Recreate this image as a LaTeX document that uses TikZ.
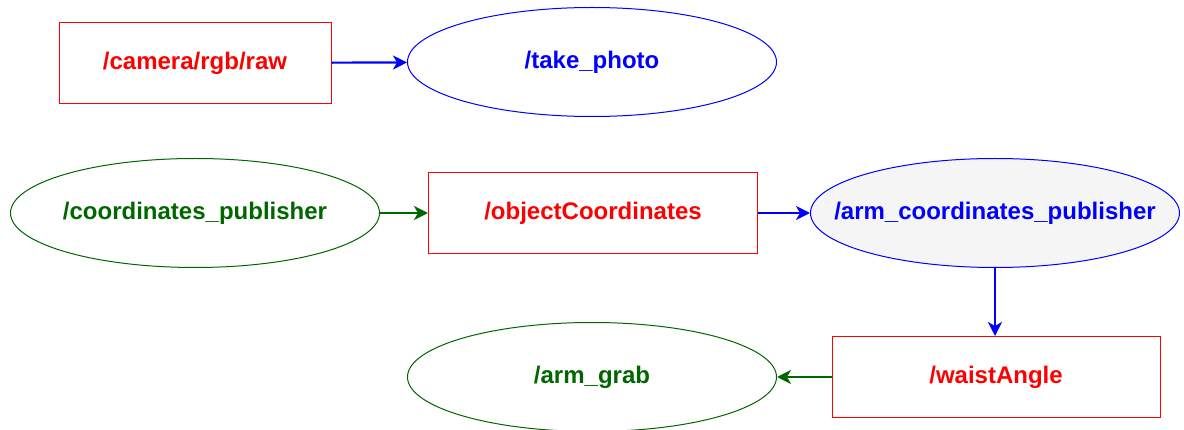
\documentclass[tikz,border=0pt]{standalone}
\usepackage{fontspec}
\setmainfont{Liberation Sans}
\usetikzlibrary{shapes.geometric,arrows.meta}
\definecolor{tred}{HTML}{FF0000}
\definecolor{nblue}{HTML}{0000FF}
\definecolor{ngreen}{HTML}{006600}
\definecolor{nfill}{HTML}{F5F5F5}

\begin{document}
\begin{tikzpicture}[x=1pt, y=-1pt, font=\fontsize{24}{29}\selectfont\bfseries,
 topic/.style = {draw=tred, text=tred, line width=1pt, rectangle, inner sep=0pt, minimum height=81pt},
 bnode/.style = {draw=nblue, text=nblue, line width=1pt, ellipse, inner sep=0pt, minimum width=369pt, minimum height=109pt},
 gnode/.style = {draw=ngreen, text=ngreen, line width=1pt, ellipse, inner sep=0pt, minimum width=369pt, minimum height=109pt},
 blink/.style = {draw=nblue, line width=2.2pt, -{Stealth[length=14pt, width=14pt, inset=4pt]}},
 glink/.style = {draw=ngreen, line width=2.2pt, -{Stealth[length=14pt, width=14pt, inset=4pt]}}]
\useasboundingbox (0,0) rectangle (1184,430);
\node[topic, minimum width=272pt] (1) at (195,63) {/camera/rgb/raw};
\node[bnode] (2) at (592,62) {/take\_photo};
\node[gnode] (3) at (195,213) {\makebox[0pt]{/coordinates\_publisher}};
\node[topic, minimum width=329pt] (4) at (593,213) {/objectCoordinates};
\node[bnode, fill=nfill] (5) at (995,213) {\makebox[0pt]{/arm\_coordinates\_publisher}};
\node[topic, minimum width=328pt] (6) at (996,377) {/waistAngle};
\node[gnode] (7) at (592,377) {/arm\_grab};
\draw[blink] (1) -- (2);
\draw[glink] (3) -- (4);
\draw[blink] (4) -- (5);
\draw[blink] (5) -- (5 |- 6.north);
\draw[glink] (6) -- (7);
\end{tikzpicture}
\end{document}
